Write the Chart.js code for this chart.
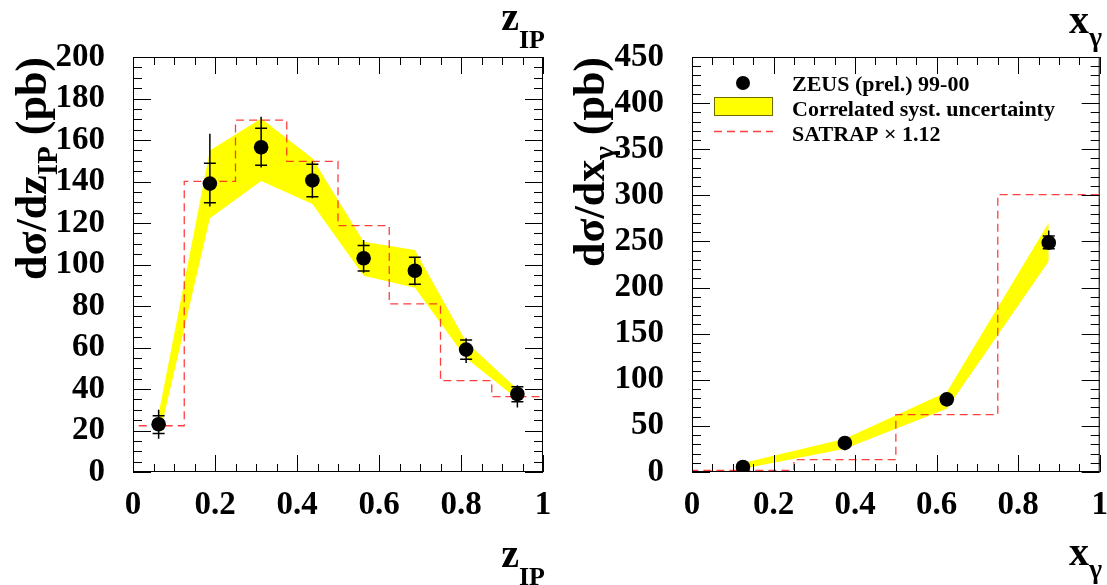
<!DOCTYPE html>
<html>
<head>
<meta charset="utf-8">
<script src="https://cdn.jsdelivr.net/npm/chart.js@4.4.0/dist/chart.umd.min.js"></script>
<style>
body { margin: 0; background: #fff; }
#wrap { position: relative; width: 1107px; height: 585px; }
canvas { position: absolute; top: 0; }
</style>
</head>
<body>
<div id="wrap">
  <canvas id="left" width="553" height="585" style="left:0"></canvas>
  <canvas id="right" width="554" height="585" style="left:553px"></canvas>
</div>
<script>
// z_IP panel
const zEdges = [0, 0.125, 0.25, 0.375, 0.5, 0.625, 0.75, 0.875, 1];
const zCenters = [0.0625, 0.1875, 0.3125, 0.4375, 0.5625, 0.6875, 0.8125, 0.9375];
const zData = [23, 139, 156.5, 140.5, 103, 97, 59, 37.6];
const zStatLo = [18.6, 129.8, 147.8, 132.7, 96.9, 90.5, 54.3, 33.9];
const zStatHi = [27.1, 148.8, 165.7, 148.3, 109.1, 103.5, 63.6, 41.1];
const zTotLo = [16, 128, 146.7, 131.9, 96, 90, 52.5, 31.1];
const zTotHi = [30, 163, 171.2, 149.6, 111.8, 103.8, 64.4, 41.8];
const zBandLo = [16, 122.3, 140.2, 129.2, 94.6, 88.8, 54.8, 35.2];
const zBandHi = [28, 154.9, 170.4, 151.2, 111, 107, 62.8, 39.9];
const zSatrap = [22.3, 140.1, 169.6, 149.7, 118.7, 81, 44, 36.3];

// x_gamma panel
const xEdges = [0, 0.25, 0.5, 0.75, 1];
const xCenters = [0.125, 0.375, 0.625, 0.875];
const xData = [5.4, 31.5, 78.8, 248.7];
const xStatLo = [4, 29, 76, 242];
const xStatHi = [7, 34, 81.5, 256];
const xTotLo = [3.5, 23.5, 75, 241];
const xTotHi = [7.5, 35, 83, 262];
const xBandLo = [3.6, 25.3, 68.7, 228.5];
const xBandHi = [9.8, 36.1, 86.8, 270.4];
const xSatrap = [1.8, 13.4, 62.2, 300.8];

const legendLabels = ["ZEUS (prel.) 99-00", "Correlated syst. uncertainty", "SATRAP \u00d7 1.12"];

const serif = "'Liberation Serif', 'Times New Roman', serif";
const satrapColor = "rgba(255, 30, 30, 0.85)";
Chart.defaults.font.family = serif;
Chart.defaults.color = "#000";

function histPoints(edges, vals) {
    const pts = [{ x: edges[0], y: 0 }];
    vals.forEach((v, i) => pts.push({ x: edges[i], y: v }));
    pts.push({ x: edges[edges.length - 1], y: vals[vals.length - 1] });
    pts.push({ x: edges[edges.length - 1], y: 0 });
    return pts;
}

function toPoints(xs, ys) {
    return xs.map((x, i) => ({ x: x, y: ys[i] }));
}

// rich text: parts = [[text, size, dy]], right aligned at (x, y)
function drawRich(ctx, parts, x, y) {
    let w = 0;
    parts.forEach(p => { ctx.font = `bold ${p[1]}px ${serif}`; w += ctx.measureText(p[0]).width; });
    let cx = x - w;
    parts.forEach(p => {
        ctx.font = `bold ${p[1]}px ${serif}`;
        ctx.fillText(p[0], cx, y + p[2]);
        cx += ctx.measureText(p[0]).width;
    });
}

function makeDecor(cfg) {
    return {
        id: "decor",
        afterDatasetsDraw(chart) {
            const { ctx, chartArea: a, scales: { x, y } } = chart;
            ctx.save();
            // error bars
            ctx.strokeStyle = "#000";
            ctx.lineWidth = 1.5;
            cfg.centers.forEach((c, i) => {
                const px = x.getPixelForValue(c);
                ctx.beginPath();
                ctx.moveTo(px, y.getPixelForValue(cfg.totLo[i]));
                ctx.lineTo(px, y.getPixelForValue(cfg.totHi[i]));
                [cfg.statLo[i], cfg.statHi[i]].forEach(v => {
                    const py = y.getPixelForValue(v);
                    ctx.moveTo(px - 6, py);
                    ctx.lineTo(px + 6, py);
                });
                ctx.stroke();
            });
            // frame and inward ticks
            ctx.lineWidth = 1;
            ctx.strokeRect(a.left + 0.5, a.top + 0.5, a.right - a.left - 1, a.bottom - a.top - 1);
            ctx.beginPath();
            let n = Math.round((x.max - x.min) / cfg.xMinor);
            for (let k = 0; k <= n; k++) {
                const px = Math.round(x.getPixelForValue(x.min + k * cfg.xMinor)) + 0.5;
                const len = k % cfg.xSub === 0 ? 17 : 8;
                ctx.moveTo(px, a.bottom); ctx.lineTo(px, a.bottom - len);
                ctx.moveTo(px, a.top); ctx.lineTo(px, a.top + len);
            }
            n = Math.round((y.max - y.min) / cfg.yMinor);
            for (let k = 0; k <= n; k++) {
                const py = Math.round(y.getPixelForValue(y.min + k * cfg.yMinor)) + 0.5;
                const len = k % cfg.ySub === 0 ? 18 : 9;
                ctx.moveTo(a.left, py); ctx.lineTo(a.left + len, py);
                ctx.moveTo(a.right, py); ctx.lineTo(a.right - len, py);
            }
            ctx.stroke();
            ctx.restore();
        },
        afterDraw(chart) {
            const { ctx, chartArea: a } = chart;
            ctx.save();
            ctx.fillStyle = "#000";
            ctx.textBaseline = "alphabetic";
            // axis titles at the end of the x axis (top and bottom)
            drawRich(ctx, cfg.xTitle, cfg.xTitleRight, cfg.xTitleTop);
            drawRich(ctx, cfg.xTitle, cfg.xTitleRight, cfg.xTitleBottom);
            // y title, rotated, ending at the top of the frame
            ctx.translate(cfg.yTitleX, a.top);
            ctx.rotate(-Math.PI / 2);
            drawRich(ctx, cfg.yTitle, 0, 0);
            ctx.restore();
            if (cfg.legend) cfg.legend(chart);
        }
    };
}

function drawLegend(chart) {
    const { ctx, chartArea: a } = chart;
    ctx.save();
    ctx.fillStyle = "#000";
    ctx.beginPath();
    ctx.arc(a.left + 51, a.top + 26, 7, 0, Math.PI * 2);
    ctx.fill();
    ctx.fillStyle = "#ffff00";
    ctx.fillRect(a.left + 22, a.top + 40, 59, 19);
    ctx.strokeStyle = "#6e6e00";
    ctx.lineWidth = 1;
    ctx.strokeRect(a.left + 22.5, a.top + 40.5, 58, 18);
    ctx.strokeStyle = satrapColor;
    ctx.lineWidth = 1.3;
    ctx.setLineDash([8, 5]);
    ctx.beginPath();
    ctx.moveTo(a.left + 22, a.top + 74.5);
    ctx.lineTo(a.left + 81, a.top + 74.5);
    ctx.stroke();
    ctx.setLineDash([]);
    ctx.fillStyle = "#000";
    ctx.font = `bold 22px ${serif}`;
    ctx.textBaseline = "alphabetic";
    legendLabels.forEach((t, i) => ctx.fillText(t, a.left + 100, a.top + 34 + 25 * i));
    ctx.restore();
}

function buildChart(canvas, p) {
    return new Chart(canvas, {
        type: "line",
        data: {
            datasets: [
                {
                    data: toPoints(p.centers, p.data),
                    showLine: false,
                    pointRadius: 7.3,
                    pointBackgroundColor: "#000",
                    pointBorderWidth: 0,
                    order: 0
                },
                {
                    data: histPoints(p.edges, p.satrap),
                    stepped: "before",
                    borderColor: satrapColor,
                    borderWidth: 1.3,
                    borderDash: [8, 5],
                    pointRadius: 0,
                    fill: false,
                    order: 1
                },
                {
                    data: toPoints(p.centers, p.bandHi),
                    borderColor: "rgba(0,0,0,0)",
                    borderWidth: 0,
                    pointRadius: 0,
                    fill: false,
                    order: 2
                },
                {
                    data: toPoints(p.centers, p.bandLo),
                    borderColor: "rgba(0,0,0,0)",
                    borderWidth: 0,
                    pointRadius: 0,
                    backgroundColor: "#ffff00",
                    fill: "-1",
                    order: 2
                }
            ]
        },
        options: {
            responsive: false,
            animation: false,
            layout: { padding: { top: 57, right: p.padRight, left: 0, bottom: 0 } },
            plugins: { legend: { display: false }, tooltip: { enabled: false } },
            scales: {
                x: {
                    type: "linear",
                    min: 0,
                    max: 1,
                    grid: { display: false },
                    border: { display: false },
                    ticks: {
                        stepSize: 0.2, padding: 6, color: "#000", autoSkip: false, maxRotation: 0,
                        font: { size: 33, weight: "bold" },
                        callback: v => String(parseFloat(v.toFixed(1)))
                    },
                    afterFit: s => { s.height = 113; s.paddingLeft = 0; s.paddingRight = 0; }
                },
                y: {
                    min: 0,
                    max: p.yMax,
                    grid: { display: false },
                    border: { display: false },
                    ticks: { stepSize: p.yStep, padding: 20, color: "#000", autoSkip: false, font: { size: 33, weight: "bold" } },
                    afterFit: s => { s.width = p.yWidth; s.paddingTop = 0; s.paddingBottom = 0; }
                }
            }
        },
        plugins: [makeDecor(p)]
    });
}

buildChart(document.getElementById("left"), {
    edges: zEdges, centers: zCenters, data: zData,
    statLo: zStatLo, statHi: zStatHi, totLo: zTotLo, totHi: zTotHi,
    bandLo: zBandLo, bandHi: zBandHi, satrap: zSatrap,
    yMax: 200, yStep: 20, yWidth: 133, padRight: 10,
    xMinor: 0.05, xSub: 4, yMinor: 5, ySub: 4,
    xTitle: [["z", 40, 0], ["IP", 26, 18]], xTitleRight: 545, xTitleTop: 30, xTitleBottom: 567,
    yTitle: [["d\u03c3/dz", 44, 0], ["IP", 29, 11], [" (pb)", 44, 0]], yTitleX: 46
});

buildChart(document.getElementById("right"), {
    edges: xEdges, centers: xCenters, data: xData,
    statLo: xStatLo, statHi: xStatHi, totLo: xTotLo, totHi: xTotHi,
    bandLo: xBandLo, bandHi: xBandHi, satrap: xSatrap,
    yMax: 450, yStep: 50, yWidth: 139, padRight: 6,
    xMinor: 0.05, xSub: 4, yMinor: 10, ySub: 5,
    xTitle: [["x", 40, 0], ["\u03b3", 28, 13]], xTitleRight: 549, xTitleTop: 33, xTitleBottom: 565,
    yTitle: [["d\u03c3/dx", 44, 0], ["\u03b3", 29, 10], [" (pb)", 44, 0]], yTitleX: 51,
    legend: drawLegend
});
</script>
</body>
</html>
